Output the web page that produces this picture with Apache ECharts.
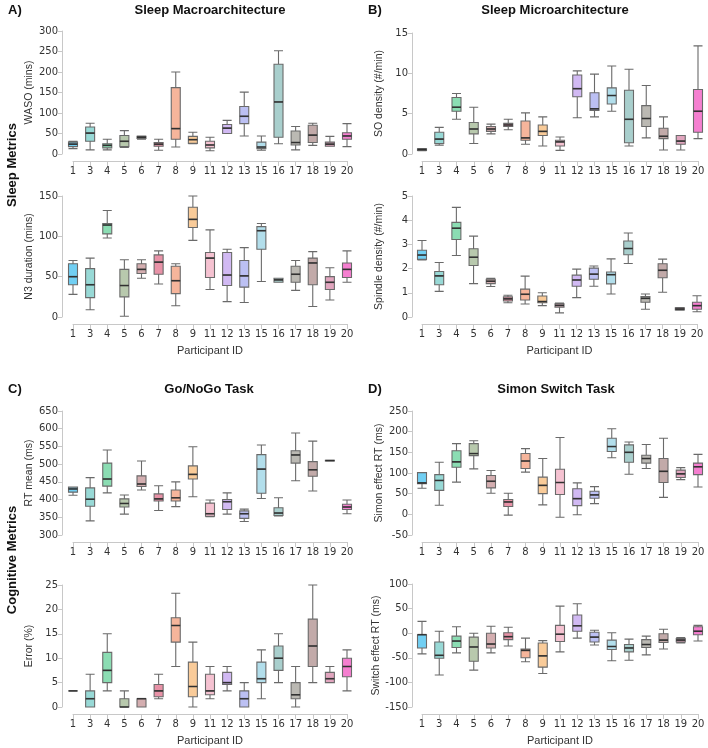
<!DOCTYPE html>
<html>
<head>
<meta charset="utf-8">
<script src="https://cdn.jsdelivr.net/npm/echarts@6/dist/echarts.min.js"></script>
<style>
  html, body { margin: 0; padding: 0; background: #fff; }
  #main { width: 708px; height: 748px; }
</style>
</head>
<body>
<div id="main"></div>
<script type="text/javascript">
// participant IDs (x categories)
var participants = ['1','3','4','5','6','7','8','9','11','12','13','15','16','17','18','19','20'];
var boxColors = ['#4DC3F0','#7ED0CC','#6ED4A0','#A6BC98','#C99A9C','#E27791','#F4A382','#F8BE80',
                 '#F2B3C5','#C6A7F0','#ABB0F0','#9FD6E6','#93C3C0','#AAA8A0','#B39593','#D98FAE','#F25FC4'];

// each row: [min, Q1, median, Q3, max]
var waso = [
  [13,18,24,29,31],[10,31,51,66,75],[10,15,21,25,36],[16,18,31,45,57],[36,38,41,43,44],
  [9,19,24,28,36],[17,36,62,162,200],[25,26,35,43,53],[8,15,22,31,41],[50,50,63,72,82],
  [44,74,92,116,151],[9,13,17,29,44],[25,41,127,219,252],[10,22,28,56,67],[21,28,46,70,75],
  [19,19,24,29,43],[18,36,44,52,74]
];
var n3 = [
  [28,40,50,66,70],[9,24,40,60,73],[98,103,114,116,132],[1,25,39,59,71],[48,54,59,66,71],
  [41,53,68,77,82],[14,29,45,63,66],[95,111,121,136,150],[34,49,73,80,108],[19,39,52,80,84],
  [18,37,51,70,86],[44,84,107,112,116],[43,43,46,48,48],[33,43,53,63,70],[13,40,67,73,81],
  [21,34,43,50,61],[43,49,59,67,82]
];
var soDensity = [
  [0.4,0.45,0.55,0.65,0.68],[1.1,1.3,1.85,2.7,3.3],[4.3,5.3,5.8,7.0,7.5],[1.3,2.5,3.1,3.9,5.8],[2.5,2.8,3.1,3.4,3.7],
  [3.0,3.4,3.6,3.8,4.3],[1.2,1.7,2.0,4.1,5.1],[1.0,2.3,2.8,3.6,4.6],[0.45,1.0,1.5,1.7,2.1],[4.5,7.1,8.1,9.8,10.3],
  [4.6,5.4,5.6,7.6,9.9],[5.3,6.2,7.25,8.2,10.9],[1.0,1.4,4.3,7.9,10.5],[2.0,3.4,4.4,6.0,8.5],[0.5,1.9,2.2,3.2,4.6],
  [0.5,1.2,1.6,2.3,2.3],[1.9,2.7,5.3,8.0,13.4]
];
var spindle = [
  [2.36,2.38,2.56,2.76,3.16],[1.06,1.33,1.70,1.88,2.25],[2.54,3.2,3.67,3.91,4.53],[1.38,2.13,2.47,2.82,3.34],[1.26,1.38,1.48,1.56,1.6],
  [0.59,0.66,0.75,0.83,0.9],[0.54,0.70,0.94,1.15,1.69],[0.47,0.59,0.64,0.87,1.0],[0.17,0.41,0.48,0.55,0.58],[0.8,1.27,1.53,1.73,1.98],
  [1.27,1.56,1.77,2.02,2.11],[0.95,1.37,1.75,1.86,2.4],[2.21,2.57,2.83,3.14,3.47],[0.32,0.61,0.77,0.84,0.95],[1.02,1.62,1.93,2.2,2.39],
  [0.28,0.29,0.33,0.38,0.39],[0.22,0.32,0.47,0.61,0.88]
];
var rtMean = [
  [412,421,430,435,435],[340,381,401,433,462],[419,438,458,503,540],[359,379,389,402,413],[427,437,444,467,509],
  [369,396,402,416,439],[380,396,405,427,450],[408,458,471,495,549],[352,353,360,390,399],[359,372,394,400,419],
  [338,347,360,368,373],[403,418,486,527,554],[354,355,362,377,405],[453,503,526,538,588],[424,466,484,507,565],
  [509,509,510,511,511],[360,372,379,387,399]
];
var errorPct = [
  [3.3,3.3,3.3,3.3,3.3],[0,0,1.7,3.3,6.7],[3.3,5,7.5,11.2,15],[0,0,0,1.7,3.3],[0,0,1.7,1.7,1.7],
  [1.7,2.1,3.3,4.6,6.7],[8.3,13.3,16.7,18.3,23.3],[0,2.1,4.2,9.2,13.3],[1.7,2.5,3.3,6.7,8.3],[3.3,4.6,5.0,7.1,8.3],
  [0,0,1.7,3.3,5],[1.7,5,5.8,9.2,11.7],[5,7.5,10,12.5,15],[0,1.7,2.5,5,8.3],[5,8.3,12.5,18,25],
  [5,5,5.8,7.1,8.3],[3.3,6.2,8.3,10,11.7]
];
var simonRT = [
  [63,74,76,101,101],[22,58,82,96,126],[78,114,127,154,171],[110,142,147,171,178],[51,64,80,94,106],
  [-2,19,30,36,51],[102,111,129,147,159],[23,50,70,90,135],[-7,48,77,109,186],[-1,21,38,62,76],
  [26,39,47,56,67],[137,152,164,184,207],[97,126,150,168,175],[111,124,135,143,169],[41,77,104,135,184],
  [84,89,98,107,113],[66,96,115,124,145]
];
var switchRT = [
  [-42,-30,-3,-3,24],[-85,-51,-45,-18,4],[-40,-29,-16,-6,13],[-75,-57,-28,-8,0],[-40,-30,-22,0,14],
  [-26,-13,-7,1,12],[-58,-50,-35,-32,-10],[-82,-69,-46,-20,-15],[-38,-17,-2,16,55],[-10,4,15,37,60],
  [-24,-18,-8,2,6],[-56,-33,-27,-14,1],[-55,-38,-30,-23,-12],[-44,-29,-23,-13,-6],[-32,-19,-14,-1,8],
  [-20,-18,-14,-11,-9],[-16,-3,4,13,16]
];

var panels = [
  {data: waso,      name: 'WASO (mins)',             min: 0,   max: 300, step: 50, left: 73,  right: 361, top: 31,  bottom: 594, xname: false},
  {data: n3,        name: 'N3 duration (mins)',      min: 0,   max: 150, step: 50, left: 73,  right: 361, top: 196, bottom: 431, xname: true},
  {data: soDensity, name: 'SO density (#/min)',      min: 0,   max: 15,  step: 5,  left: 422, right: 10,  top: 33,  bottom: 594, xname: false},
  {data: spindle,   name: 'Spindle density (#/min)', min: 0,   max: 5,   step: 1,  left: 422, right: 11,  top: 196, bottom: 431, xname: true},
  {data: rtMean,    name: 'RT mean (ms)',            min: 300, max: 650, step: 50, left: 73,  right: 361, top: 411, bottom: 213, xname: false},
  {data: errorPct,  name: 'Error (%)',               min: 0,   max: 25,  step: 5,  left: 73,  right: 361, top: 585, bottom: 41,  xname: true},
  {data: simonRT,   name: 'Simon effect RT (ms)',    min: -50, max: 250, step: 50, left: 422, right: 10,  top: 411, bottom: 213, xname: false},
  {data: switchRT,  name: 'Switch effect RT (ms)',   min: -150,max: 100, step: 50, left: 422, right: 10,  top: 584, bottom: 41,  xname: true}
];

function fade(hex, a) {
  var r = parseInt(hex.substr(1,2),16), g = parseInt(hex.substr(3,2),16), b = parseInt(hex.substr(5,2),16);
  return 'rgba(' + r + ',' + g + ',' + b + ',' + a + ')';
}

var axisFont = 'DejaVu Sans';
var grids = [], xAxes = [], yAxes = [], series = [];

panels.forEach(function(p, i) {
  grids.push({left: p.left, right: p.right, top: p.top, bottom: p.bottom});
  xAxes.push({
    type: 'category', gridIndex: i, data: participants, boundaryGap: false, offset: 7,
    name: p.xname ? 'Participant ID' : '', nameLocation: 'middle', nameGap: 21,
    nameTextStyle: {fontFamily: 'Liberation Sans', fontSize: 11, color: '#333'},
    axisLine: {onZero: false, lineStyle: {color: '#c8c8c8'}},
    axisTick: {alignWithLabel: true, length: 5, lineStyle: {color: '#c8c8c8'}},
    axisLabel: {fontFamily: axisFont, fontSize: 10, color: '#333', interval: 0, margin: 5},
    splitLine: {show: false}
  });
  yAxes.push({
    type: 'value', gridIndex: i, min: p.min, max: p.max, interval: p.step,
    offset: p.left < 200 ? 11 : 10,
    name: p.name, nameLocation: 'middle', nameGap: 27,
    nameTextStyle: {fontFamily: 'Liberation Sans', fontSize: 10.5, color: '#333'},
    axisLine: {show: true, onZero: false, lineStyle: {color: '#c8c8c8'}},
    axisTick: {show: true, length: 4, lineStyle: {color: '#c8c8c8'}},
    axisLabel: {fontFamily: axisFont, fontSize: 10, color: '#333', margin: 4},
    splitLine: {show: false}
  });
  series.push({
    type: 'boxplot', xAxisIndex: i, yAxisIndex: i, boxWidth: [9, 9],
    itemStyle: {borderColor: '#6a6a6a', borderWidth: 1.1},
    emphasis: {disabled: true},
    data: p.data.map(function(d, k) {
      return {value: d, itemStyle: {color: fade(boxColors[k], 0.8), borderColor: '#6a6a6a'}};
    })
  });
  // dark median bars on top of the boxes
  series.push({
    type: 'scatter', xAxisIndex: i, yAxisIndex: i, symbol: 'rect', symbolSize: [9, 1.6],
    itemStyle: {color: '#222'}, silent: true, z: 5,
    data: p.data.map(function(d) { return d[2]; })
  });
});

var textStyleTitle = 'bold 13px "Liberation Sans"';
var chart = echarts.init(document.getElementById('main'));
chart.setOption({
  animation: false,
  grid: grids,
  xAxis: xAxes,
  yAxis: yAxes,
  series: series,
  graphic: [
    {type: 'text', x: 8,   y: 10,  style: {text: 'A)', font: textStyleTitle, fill: '#111', textVerticalAlign: 'middle'}},
    {type: 'text', x: 368, y: 10,  style: {text: 'B)', font: textStyleTitle, fill: '#111', textVerticalAlign: 'middle'}},
    {type: 'text', x: 8,   y: 389, style: {text: 'C)', font: textStyleTitle, fill: '#111', textVerticalAlign: 'middle'}},
    {type: 'text', x: 368, y: 389, style: {text: 'D)', font: textStyleTitle, fill: '#111', textVerticalAlign: 'middle'}},
    {type: 'text', x: 210, y: 10,  style: {text: 'Sleep Macroarchitecture', font: textStyleTitle, fill: '#111', textAlign: 'center', textVerticalAlign: 'middle'}},
    {type: 'text', x: 555, y: 10,  style: {text: 'Sleep Microarchitecture', font: textStyleTitle, fill: '#111', textAlign: 'center', textVerticalAlign: 'middle'}},
    {type: 'text', x: 209, y: 389, style: {text: 'Go/NoGo Task', font: textStyleTitle, fill: '#111', textAlign: 'center', textVerticalAlign: 'middle'}},
    {type: 'text', x: 556, y: 389, style: {text: 'Simon Switch Task', font: textStyleTitle, fill: '#111', textAlign: 'center', textVerticalAlign: 'middle'}},
    {type: 'text', x: 12, y: 165, rotation: Math.PI / 2, style: {text: 'Sleep Metrics', font: textStyleTitle, fill: '#111', textAlign: 'center', textVerticalAlign: 'middle'}},
    {type: 'text', x: 12, y: 560, rotation: Math.PI / 2, style: {text: 'Cognitive Metrics', font: textStyleTitle, fill: '#111', textAlign: 'center', textVerticalAlign: 'middle'}}
  ]
});
</script>
</body>
</html>
